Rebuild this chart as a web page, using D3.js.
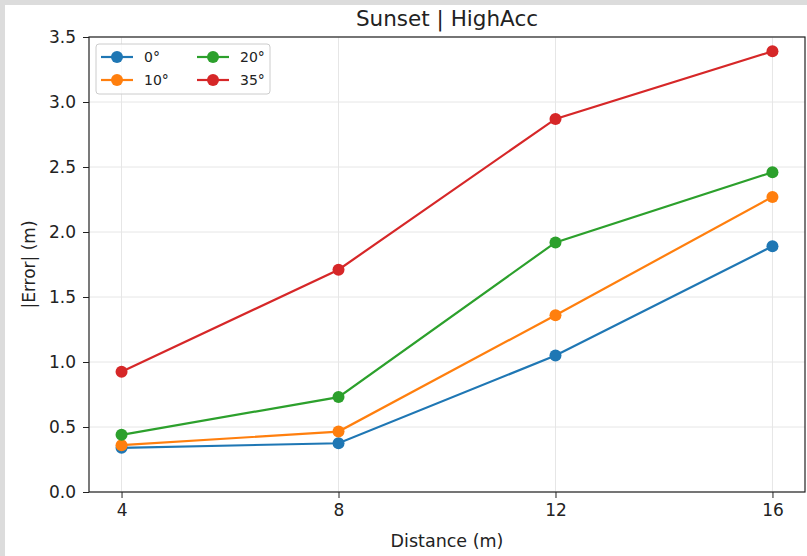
<!DOCTYPE html>
<html lang="en">
<head>
    <meta charset="UTF-8">
    <title>Sunset | HighAcc</title>
    <style>
        body { margin: 0; background: #dcdcdc; }
        svg { display: block; font-family: "DejaVu Sans", sans-serif; }
    </style>
</head>
<body>
    <svg width="807" height="556" id="svg"></svg>
    <script src="https://d3js.org/d3.v7.min.js"></script>
    <script>
        // data
        let distances = [4, 8, 12, 16]
        let angles = ["0°", "10°", "20°", "35°"]
        let err0 = [0.34, 0.375, 1.05, 1.89]
        let err10 = [0.36, 0.465, 1.36, 2.27]
        let err20 = [0.44, 0.73, 1.92, 2.46]
        let err35 = [0.925, 1.71, 2.87, 3.39]
        let yTicks = [0, 0.5, 1.0, 1.5, 2.0, 2.5, 3.0, 3.5]
        let colors = ["#1f77b4", "#ff7f0e", "#2ca02c", "#d62728"]

        let series = [err0, err10, err20, err35].map((vals, i) => ({
            name: angles[i], color: colors[i],
            points: vals.map((v, j) => ({ x: distances[j], y: v }))
        }))

        var svg = d3.select("svg")
        // plot box (note: "top" is a reserved window prop, so prefixed names)
        var pLeft = 89, pRight = 805, pTop = 37, pBottom = 492

        // white figure background over the grey frame
        svg.append("rect").attr("x", 5).attr("y", 5).attr("width", 802).attr("height", 551).attr("fill", "#fff")

        var x = d3.scaleLinear().domain([3.4, 16.6]).range([pLeft, pRight])
        var y = d3.scaleLinear().domain([0, 3.5]).range([pBottom, pTop])

        // grid
        var grid = svg.append("g")
        grid.selectAll(".gx").data(distances).enter().append("line")
            .attr("x1", d => x(d)).attr("x2", d => x(d))
            .attr("y1", pTop).attr("y2", pBottom)
            .attr("stroke", "#e6e6e6").attr("stroke-width", 1)
        grid.selectAll(".gy").data(yTicks).enter().append("line")
            .attr("x1", pLeft).attr("x2", pRight)
            .attr("y1", d => y(d)).attr("y2", d => y(d))
            .attr("stroke", "#e6e6e6").attr("stroke-width", 1)

        // axes
        var xAxis = svg.append("g")
            .attr("transform", "translate(0," + pBottom + ")")
            .call(d3.axisBottom(x).tickValues(distances).tickFormat(d3.format("d")).tickSize(6).tickPadding(6).tickSizeOuter(0))
        var yAxis = svg.append("g")
            .attr("transform", "translate(" + pLeft + ",0)")
            .call(d3.axisLeft(y).tickValues(yTicks).tickFormat(d3.format(".1f")).tickSize(6).tickPadding(7).tickSizeOuter(0))
        ;[xAxis, yAxis].forEach(a => {
            a.select(".domain").remove()
            a.selectAll("text").attr("font-size", 17).attr("fill", "#222").attr("font-family", "DejaVu Sans")
            a.selectAll("line").attr("stroke", "#222")
        })

        // frame
        svg.append("rect").attr("x", pLeft).attr("y", pTop)
            .attr("width", pRight - pLeft).attr("height", pBottom - pTop)
            .attr("fill", "none").attr("stroke", "#222").attr("stroke-width", 1.2)

        // lines and markers
        var line = d3.line().x(d => x(d.x)).y(d => y(d.y))
        var g = svg.selectAll(".series").data(series).enter().append("g")
        g.append("path").attr("d", d => line(d.points))
            .attr("fill", "none").attr("stroke", d => d.color).attr("stroke-width", 2.2)
        g.selectAll("circle").data(d => d.points.map(p => ({ ...p, color: d.color }))).enter().append("circle")
            .attr("cx", d => x(d.x)).attr("cy", d => y(d.y)).attr("r", 6)
            .attr("fill", d => d.color)

        // title and labels
        svg.append("text").attr("x", (pLeft + pRight) / 2).attr("y", 26)
            .attr("text-anchor", "middle").attr("font-size", 21.5).attr("fill", "#222").text("Sunset | HighAcc")
        svg.append("text").attr("x", (pLeft + pRight) / 2).attr("y", 547)
            .attr("text-anchor", "middle").attr("font-size", 17.5).attr("fill", "#222").text("Distance (m)")
        svg.append("text").attr("transform", "translate(35," + (pTop + pBottom) / 2 + ") rotate(-90)")
            .attr("text-anchor", "middle").attr("font-size", 17).attr("fill", "#222").text("|Error| (m)")

        // legend
        var lg = svg.append("g").attr("transform", "translate(96,44)")
        lg.append("rect").attr("width", 174).attr("height", 50).attr("rx", 3)
            .attr("fill", "#fff").attr("fill-opacity", 0.8).attr("stroke", "#ccc")
        var items = lg.selectAll(".item").data(series).enter().append("g")
            .attr("transform", (d, i) => "translate(" + (5 + Math.floor(i / 2) * 96) + "," + (13 + (i % 2) * 23) + ")")
        items.append("line").attr("x1", 0).attr("x2", 32)
            .attr("stroke", d => d.color).attr("stroke-width", 2.2)
        items.append("circle").attr("cx", 16).attr("r", 6).attr("fill", d => d.color)
        items.append("text").attr("x", 43).attr("y", 5).attr("font-size", 14).attr("fill", "#222").text(d => d.name)
    </script>
</body>
</html>
